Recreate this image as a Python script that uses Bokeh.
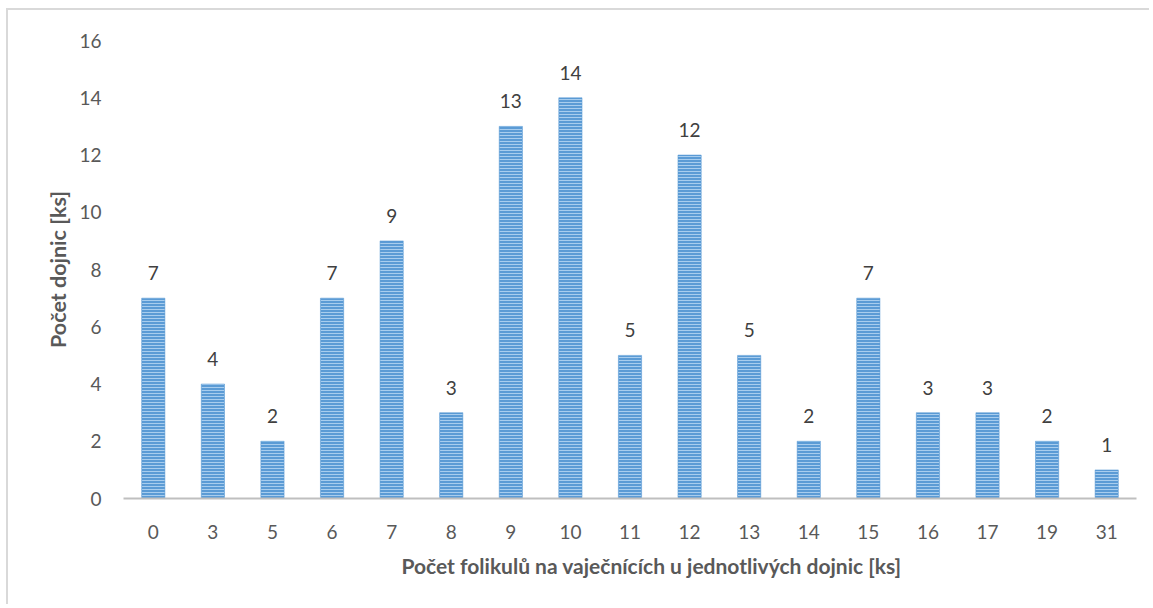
from bokeh.plotting import figure
from bokeh.models import FactorRange, Range1d, FixedTicker, ColumnDataSource, Title
from bokeh.core.properties import value
from bokeh.embed import file_html
from bokeh.resources import INLINE

categories = ["0", "3", "5", "6", "7", "8", "9", "10", "11", "12", "13", "14", "15", "16", "17", "19", "31"]
counts = [7, 4, 2, 7, 9, 3, 13, 14, 5, 12, 5, 2, 7, 3, 3, 2, 1]
y_ticks = [0, 2, 4, 6, 8, 10, 12, 14, 16]
x_title = "Počet folikulů na vaječnících u jednotlivých dojnic [ks]"
y_title = "Počet dojnic [ks]"

FONT = "Lato"

src = ColumnDataSource(dict(cat=categories, val=counts, lab=[str(v) for v in counts]))

p = figure(
    x_range=FactorRange(factors=categories, range_padding=0),
    y_range=Range1d(0, 16),
    width=1143, height=596,
    output_backend="svg", toolbar_location=None,
    min_border_left=115, min_border_right=15, min_border_top=30, min_border_bottom=108,
    styles={"border-left": "2px solid #d9d9d9", "border-top": "2px solid #d9d9d9",
            "margin-top": "8px", "margin-left": "6px"},
)
p.outline_line_color = None
p.grid.grid_line_color = None

p.vbar(x="cat", top="val", width=0.39, source=src,
       fill_color="#5b9bd5", line_color="#5b9bd5", line_width=0.5,
       hatch_pattern="horizontal_line", hatch_color="#a8cdee", hatch_scale=3, hatch_weight=1)

p.text(x="cat", y="val", text="lab", source=src, text_align="center", text_baseline="alphabetic",
       y_offset=-25, text_font=value(FONT), text_font_size="19px", text_color="#404040")

# y axis
p.yaxis.ticker = FixedTicker(ticks=y_ticks)
p.yaxis.axis_line_color = None
p.yaxis.major_tick_line_color = None
p.yaxis.minor_tick_line_color = None
p.yaxis.major_label_text_font = FONT
p.yaxis.major_label_text_font_size = "19px"
p.yaxis.major_label_text_color = "#595959"
p.yaxis.major_label_standoff = 16
p.yaxis.axis_label = y_title
p.yaxis.axis_label_text_font = FONT
p.yaxis.axis_label_text_font_style = "bold"
p.yaxis.axis_label_text_font_size = "21.5px"
p.yaxis.axis_label_text_color = "#595959"
p.yaxis.axis_label_standoff = 5

# x axis
p.xaxis.axis_line_color = "#bfbfbf"
p.xaxis.axis_line_width = 2
p.xaxis.major_tick_line_color = None
p.xaxis.minor_tick_line_color = None
p.xaxis.major_label_text_font = FONT
p.xaxis.major_label_text_font_size = "19px"
p.xaxis.major_label_text_color = "#595959"
p.xaxis.major_label_standoff = 20

p.add_layout(Title(text=x_title, align="left", offset=278, standoff=18,
                   text_font=FONT, text_font_style="bold", text_font_size="21px",
                   text_color="#595959"), "below")

open("out.html", "w").write(file_html(p, INLINE))
